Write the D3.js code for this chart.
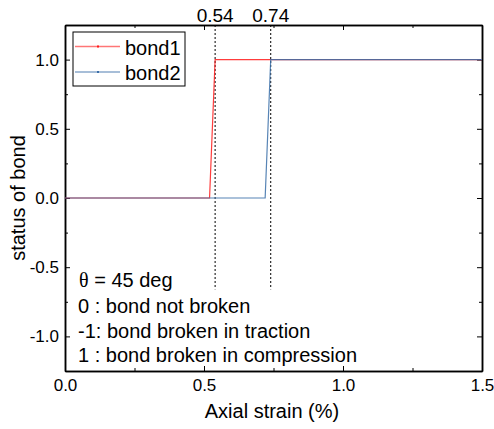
<!DOCTYPE html>
<html>
<head>
<meta charset="utf-8">
<script src="https://cdn.jsdelivr.net/npm/d3@7"></script>
<style>
  body { margin: 0; background: #fff; }
  svg { display: block; font-family: Arial, "Liberation Sans", sans-serif; }
</style>
</head>
<body>
<svg id="chart" width="494" height="429"></svg>
<script>
// data
const bond1Strain = [0, 0.52, 0.54, 1.5];
const bond1Status = [0, 0, 1, 1];
const bond2Strain = [0, 0.72, 0.74, 1.5];
const bond2Status = [0, 0, 1, 1];
const breakStrains = [0.54, 0.74];
const xTicks = [0, 0.5, 1.0, 1.5];
const yTicks = [-1.0, -0.5, 0.0, 0.5, 1.0];
const notes = ["0 : bond not broken", "-1: bond broken in traction", "1 : bond broken in compression"];

const svg = d3.select('#chart');
const margin = {left: 65, right: 12, top: 25, bottom: 58};
const W = 494, H = 429;
const x = d3.scaleLinear().domain([0, 1.5]).range([margin.left, W - margin.right]);
const y = d3.scaleLinear().domain([-1.25, 1.25]).range([H - margin.bottom, margin.top]);
const fmt = d => d.toFixed(1);

/* axes, ticks pointing inside */
const minorX = d3.range(0, 1.5001, 0.25).filter(v => !xTicks.includes(v));
const minorY = d3.range(-1.25, 1.2501, 0.25).filter(v => !yTicks.some(t => Math.abs(t - v) < 1e-9));

// bottom
svg.append('g').attr('transform', `translate(0,${y(-1.25)})`)
  .call(d3.axisBottom(x).tickValues(xTicks).tickSize(-5).tickSizeOuter(0).tickPadding(8).tickFormat(fmt));
svg.append('g').attr('transform', `translate(0,${y(-1.25)})`)
  .call(d3.axisBottom(x).tickValues(minorX).tickSize(-3).tickSizeOuter(0).tickFormat(''));
// top
svg.append('g').attr('transform', `translate(0,${y(1.25)})`)
  .call(d3.axisTop(x).tickValues(xTicks).tickSize(-5).tickSizeOuter(0).tickFormat(''));
svg.append('g').attr('transform', `translate(0,${y(1.25)})`)
  .call(d3.axisTop(x).tickValues(minorX).tickSize(-3).tickSizeOuter(0).tickFormat(''));
// left
svg.append('g').attr('transform', `translate(${x(0)},0)`)
  .call(d3.axisLeft(y).tickValues(yTicks).tickSize(-5).tickSizeOuter(0).tickPadding(6).tickFormat(fmt));
svg.append('g').attr('transform', `translate(${x(0)},0)`)
  .call(d3.axisLeft(y).tickValues(minorY).tickSize(-3).tickSizeOuter(0).tickFormat(''));
// right
svg.append('g').attr('transform', `translate(${x(1.5)},0)`)
  .call(d3.axisRight(y).tickValues(yTicks).tickSize(-5).tickSizeOuter(0).tickFormat(''));
svg.append('g').attr('transform', `translate(${x(1.5)},0)`)
  .call(d3.axisRight(y).tickValues(minorY).tickSize(-3).tickSizeOuter(0).tickFormat(''));

svg.selectAll('.domain').attr('stroke', '#000').attr('stroke-width', 1.5);
svg.selectAll('.tick line').attr('stroke', '#000');
svg.selectAll('.tick text').attr('font-size', 17).attr('fill', '#000')
  .attr('font-family', 'Arial, "Liberation Sans", sans-serif');

/* top labels + dotted guide lines */
breakStrains.forEach(s => {
  svg.append('text').attr('x', x(s)).attr('y', 22).attr('text-anchor', 'middle')
    .attr('font-size', 19).text(s.toFixed(2));
  svg.append('line').attr('x1', x(s)).attr('x2', x(s))
    .attr('y1', y(1.25)).attr('y2', y(-0.66))
    .attr('stroke', '#000').attr('stroke-width', 1).attr('stroke-dasharray', '2,2');
});

/* lines */
const line = d3.line().x(d => x(d[0])).y(d => y(d[1]));
const series = [
  {name: 'bond1', color: '#ff1a1a', pts: d3.zip(bond1Strain, bond1Status)},
  {name: 'bond2', color: '#3a6ea8', pts: d3.zip(bond2Strain, bond2Status)}
];
series.forEach(s => {
  svg.append('path').attr('d', line(s.pts)).attr('fill', 'none')
    .attr('stroke', s.color).attr('stroke-opacity', 0.85).attr('stroke-width', 1.2);
});

/* legend */
const lg = svg.append('g');
lg.append('rect').attr('x', 73).attr('y', 32).attr('width', 112).attr('height', 54)
  .attr('fill', '#fff').attr('stroke', '#000').attr('stroke-width', 1);
series.forEach((s, i) => {
  const ly = 46.5 + i * 25.5;
  lg.append('line').attr('x1', 75).attr('x2', 120).attr('y1', ly).attr('y2', ly)
    .attr('stroke', s.color).attr('stroke-opacity', 0.6).attr('stroke-width', 1.5);
  lg.append('rect').attr('x', 97).attr('y', ly - 1).attr('width', 2).attr('height', 2).attr('fill', s.color);
  lg.append('text').attr('x', 125).attr('y', ly + 8).attr('font-size', 20).text(s.name);
});

/* notes */
const th = svg.append('text').attr('x', 79).attr('y', 287).attr('font-size', 20);
th.append('tspan').attr('font-family', '"Liberation Serif", "DejaVu Serif", serif').text('θ');
th.append('tspan').text(' = 45 deg');
notes.forEach((t, i) => {
  svg.append('text').attr('x', 78).attr('y', 313 + i * 24.5)
    .attr('font-size', 20).text(t);
});

/* axis titles */
svg.append('text').attr('x', 272).attr('y', 418).attr('text-anchor', 'middle')
  .attr('font-size', 20).text('Axial strain (%)');
svg.append('text').attr('transform', `translate(25,${y(0)}) rotate(-90)`)
  .attr('text-anchor', 'middle').attr('font-size', 20).text('status of bond');
</script>
</body>
</html>
